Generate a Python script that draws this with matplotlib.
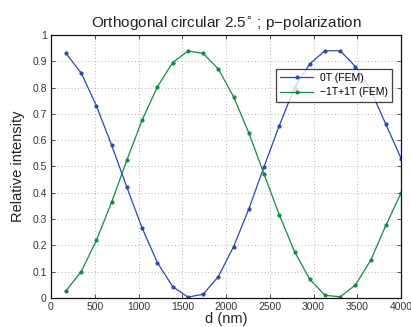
import matplotlib
matplotlib.use('Agg')
import matplotlib.pyplot as plt
from matplotlib.ticker import FixedLocator

plt.rcParams['font.family'] = ['Liberation Sans', 'DejaVu Sans']

# thickness d (nm)
d_nm = [172, 346, 520, 694, 868, 1042, 1216, 1390, 1564, 1738, 1912, 2086,
        2260, 2434, 2608, 2782, 2956, 3130, 3304, 3478, 3652, 3826, 4000]

# 0T (FEM)
int_0t = [0.93, 0.855, 0.73, 0.58, 0.42, 0.265, 0.134, 0.043, 0.003, 0.014,
          0.081, 0.195, 0.338, 0.499, 0.655, 0.80, 0.89, 0.94, 0.94, 0.88,
          0.79, 0.66, 0.53]

# -1T+1T (FEM)
int_pm1t = [0.027, 0.10, 0.22, 0.365, 0.525, 0.677, 0.803, 0.895, 0.939, 0.930,
            0.871, 0.765, 0.628, 0.471, 0.316, 0.176, 0.071, 0.010, 0.004,
            0.049, 0.143, 0.276, 0.40]

xticks = [0, 500, 1000, 1500, 2000, 2500, 3000, 3500, 4000]
yticks = [0, 0.1, 0.2, 0.3, 0.4, 0.5, 0.6, 0.7, 0.8, 0.9, 1]
ytick_labels = ['0', '0.1', '0.2', '0.3', '0.4', '0.5', '0.6', '0.7',
                '0.8', '0.9', '1']

fig = plt.figure(figsize=(4.11, 3.27), dpi=100)
ax = fig.add_axes([0.124, 0.089, 0.852, 0.804])

ax.plot(d_nm, int_0t, '-', marker='.', markersize=4, color='#2a48b0',
        linewidth=0.9, label='0T (FEM)')
ax.plot(d_nm, int_pm1t, '-', marker='.', markersize=4, color='#128a45',
        linewidth=0.9, label='\u22121T+1T (FEM)')

ax.set_xlim(0, 4000)
ax.set_ylim(0, 1)
ax.xaxis.set_major_locator(FixedLocator(xticks))
ax.yaxis.set_major_locator(FixedLocator(yticks))
ax.set_yticklabels(ytick_labels)
ax.tick_params(direction='in', length=3, width=0.6, labelsize=7.5,
               colors='#333333', pad=3, top=True, right=True)
ax.grid(True, linestyle=(0, (1, 3)), color='#999999', linewidth=0.6)
for s in ax.spines.values():
    s.set_linewidth(0.9)
    s.set_color('#111111')

ax.set_title('Orthogonal circular 2.5$^{\\circ}$ ; p\u2212polarization',
             fontsize=11, color='#222222', pad=5)
ax.set_xlabel('d (nm)', fontsize=10.5, color='#222222', labelpad=0)
ax.set_ylabel('Relative intensity', fontsize=10.5, color='#222222', labelpad=5)

leg = ax.legend(loc='upper right', bbox_to_anchor=(0.988, 0.892), fontsize=7.5,
                frameon=True, fancybox=False, borderpad=0.4, handlelength=3.2,
                labelspacing=0.45, handletextpad=0.6)
leg.get_frame().set_edgecolor('#111111')
leg.get_frame().set_linewidth(0.9)

fig.savefig('out.png', dpi=100)
